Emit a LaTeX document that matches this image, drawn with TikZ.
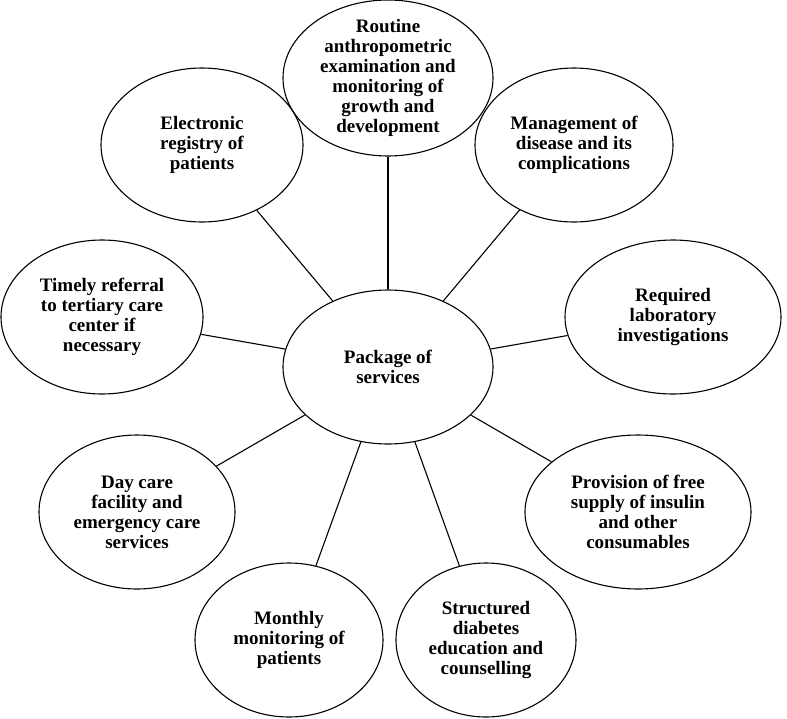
\documentclass[tikz,border=0pt]{standalone}
\usepackage{fontspec}
\setmainfont{Liberation Serif}
\usetikzlibrary{shapes.geometric}
\begin{document}
\begin{tikzpicture}[
  x = 1pt, y = -1pt,
  service/.style={draw, ellipse, line width=1.1pt, inner sep=-6pt,
    minimum width=#1, minimum height=\eh,
    font=\fontsize{19}{20}\selectfont\bfseries},
  link/.style={line width=1.1pt},
  every text node part/.style={align=center}
]
%general params
\def\eh{154pt} %ellipse height

%frame
\useasboundingbox (0,0) rectangle (787,718);

%hub
\node[service=210pt] (hub) at (388,367) {Package of\\services};

%services
\node[service=210pt, minimum height=156pt] (routine) at (388,78)
  {Routine\\anthropometric\\examination and\\monitoring of\\growth and\\development};
\node[service=202pt] (registry) at (202,145) {Electronic\\registry of\\patients};
\node[service=198pt] (manage)   at (574,145) {Management of\\disease and its\\complications};
\node[service=202pt] (referral) at (102,317) {Timely referral\\to tertiary care\\center if\\necessary};
\node[service=216pt] (lab)      at (673,317) {Required\\laboratory\\investigations};
\node[service=196pt] (daycare)  at (137,512) {Day care\\facility and\\emergency care\\services};
\node[service=226pt] (insulin)  at (638,512) {Provision of free\\supply of insulin\\and other\\consumables};
\node[service=188pt] (monthly)  at (289,640) {Monthly\\monitoring of\\patients};
\node[service=180pt] (educ)     at (486,640) {Structured\\diabetes\\education and\\counselling};

%links
\foreach \s in {routine, registry, manage, referral, lab, daycare, insulin, monthly, educ}
  \draw[link] (hub) -- (\s);

\end{tikzpicture}
\end{document}
